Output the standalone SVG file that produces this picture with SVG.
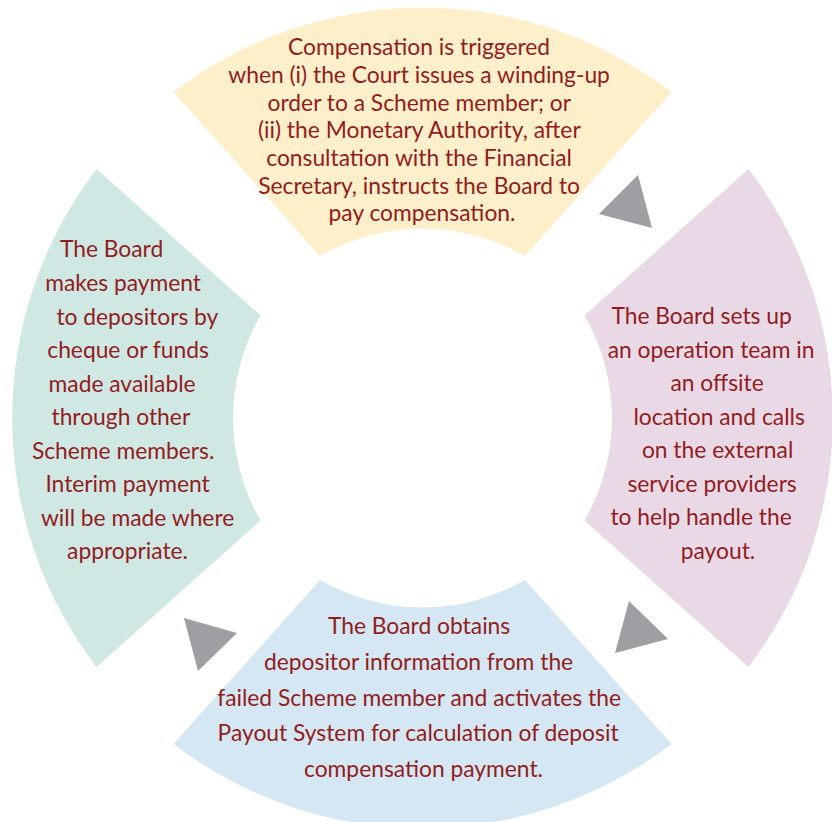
<svg xmlns="http://www.w3.org/2000/svg" width="832" height="822" viewBox="0 0 832 822">
  <style>
    .lbl { font-family: "Lato", "Open Sans", "Liberation Sans", sans-serif; font-size: 22.8px; fill: #921c20; text-anchor: middle; }
    .arrow { fill: #9d9fa2; }
  </style>
  <defs>
    <!-- one fan-shaped segment pointing up, centred on the wheel's hub -->
    <path id="seg" d="M -249 -326 A 410 410 0 0 1 249 -326 L 102.5 -162 A 205 205 0 0 0 -102.5 -162 Z"/>
  </defs>
  <rect width="832" height="822" fill="#ffffff"/>

  <g id="step-trigger">
    <use href="#seg" transform="translate(422.5 418)" fill="#fdefc9"/>
    <text class="lbl">
      <tspan x="422" y="55">Compensation is triggered</tspan>
      <tspan x="422" y="83">when (i) the Court issues a winding-up</tspan>
      <tspan x="422" y="110.5">order to a Scheme member; or</tspan>
      <tspan x="422" y="138">(ii) the Monetary Authority, after</tspan>
      <tspan x="422" y="166">consultation with the Financial</tspan>
      <tspan x="422" y="193.5">Secretary, instructs the Board to</tspan>
      <tspan x="422" y="221">pay compensation.</tspan>
    </text>
  </g>

  <g id="step-setup">
    <use href="#seg" transform="translate(422.5 418) rotate(90)" fill="#e9d9e7"/>
    <text class="lbl">
      <tspan x="704.5" y="324">The Board sets up</tspan>
      <tspan x="714" y="357.5">an operation team in</tspan>
      <tspan x="720" y="391">an offsite</tspan>
      <tspan x="722" y="424.5">location and calls</tspan>
      <tspan x="720.5" y="458">on the external</tspan>
      <tspan x="715" y="491.5">service providers</tspan>
      <tspan x="704" y="525">to help handle the</tspan>
      <tspan x="718" y="558.5">payout.</tspan>
    </text>
  </g>

  <g id="step-obtain">
    <use href="#seg" transform="translate(422.5 418) rotate(180)" fill="#d4e7f2"/>
    <text class="lbl">
      <tspan x="422" y="634">The Board obtains</tspan>
      <tspan x="421.5" y="670">depositor information from the</tspan>
      <tspan x="422" y="705.5">failed Scheme member and activates the</tspan>
      <tspan x="421" y="741">Payout System for calculation of deposit</tspan>
      <tspan x="423.5" y="777">compensation payment.</tspan>
    </text>
  </g>

  <g id="step-payment">
    <use href="#seg" transform="translate(422.5 418) rotate(270)" fill="#cfe8e4"/>
    <text class="lbl">
      <tspan x="114.5" y="257">The Board</tspan>
      <tspan x="126" y="291">makes payment</tspan>
      <tspan x="140" y="325">to depositors by</tspan>
      <tspan x="131" y="358">cheque or funds</tspan>
      <tspan x="125" y="391.5">made available</tspan>
      <tspan x="123.5" y="425">through other</tspan>
      <tspan x="126" y="458.5">Scheme members.</tspan>
      <tspan x="130.5" y="492">Interim payment</tspan>
      <tspan x="140.5" y="525.5">will be made where</tspan>
      <tspan x="127.5" y="559">appropriate.</tspan>
    </text>
  </g>

  <g id="connectors">
    <polygon class="arrow" points="638,175 599,214 652,228"/>
    <polygon class="arrow" points="629,601 668,639 615,653"/>
    <polygon class="arrow" points="184,618 237,633 198,671"/>
  </g>
</svg>
